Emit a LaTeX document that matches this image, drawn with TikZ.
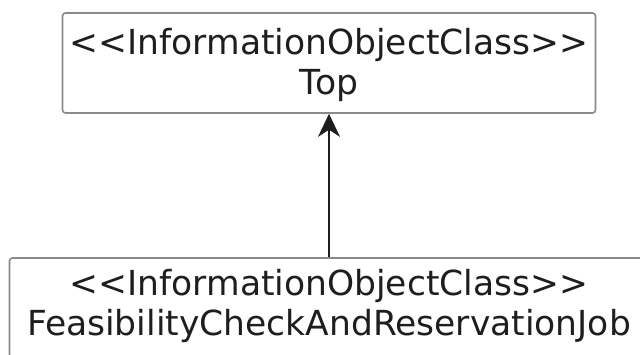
\documentclass[tikz,border=0pt]{standalone}
\usepackage{fontspec}
\setmainfont{DejaVu Sans}[Ligatures=TeXOff]
\usetikzlibrary{arrows.meta}
\definecolor{boxline}{HTML}{8A8A8A}
\definecolor{ink}{HTML}{1E1E1E}
\tikzset{
  umlbox/.style={draw=boxline, line width=1.6pt, rounded corners=3pt, fill=white, inner sep=0pt},
  lbl/.style={anchor=base, inner sep=0pt, text=ink, font=\fontsize{34.5}{40}\selectfont},
  gen/.style={draw=ink, line width=2pt, -{Stealth[length=23pt, width=22pt, inset=7pt]}}
}
\begin{document}
\begin{tikzpicture}[x=1pt,y=1pt]
\useasboundingbox (0,0) rectangle (640,354);
\clip (0,0) rectangle (640,354);
\fill[white] (0,0) rectangle (640,354);
% top box
\node[umlbox, minimum width=533pt, minimum height=100pt] (top) at (329,291) {};
\node[lbl] (t1) at (329,299) {<<InformationObjectClass>>};
\node[lbl] (t2) at (329,259) {Top};
% bottom box
\node[umlbox, minimum width=639pt, minimum height=110pt] (bot) at (329,41) {};
\node[lbl] (b1) at (329,59) {<<InformationObjectClass>>};
\node[lbl] (b2) at (329,19) {FeasibilityCheckAndReservationJob};
% generalization arrow
\draw[gen] (bot.north) -- (top.south);
\end{tikzpicture}
\end{document}
